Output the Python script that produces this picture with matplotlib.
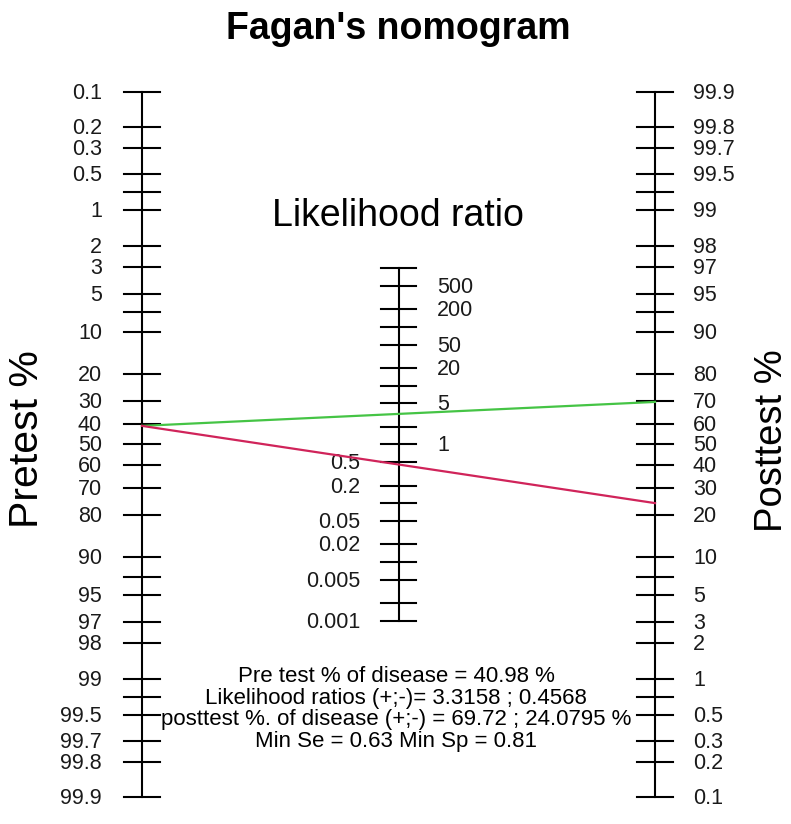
import matplotlib
matplotlib.use("Agg")
import matplotlib.pyplot as plt
import numpy as np

# ---- data ----
pretest = 40.98
lr_pos, lr_neg = 3.3158, 0.4568
post_pos, post_neg = 69.72, 24.0795
min_se, min_sp = 0.63, 0.81

prob_ticks = [0.1, 0.2, 0.3, 0.5, 0.7, 1, 2, 3, 5, 7, 10, 20, 30, 40, 50, 60,
              70, 80, 90, 93, 95, 97, 98, 99, 99.3, 99.5, 99.7, 99.8, 99.9]
prob_unlabeled = [0.7, 7, 93, 99.3]
lr_ticks = [0.001, 0.002, 0.005, 0.01, 0.02, 0.05, 0.1, 0.2, 0.5, 1, 2, 5,
            10, 20, 50, 100, 200, 500, 1000]
lr_labels_right = [500, 200, 50, 20, 5, 1]
lr_labels_left = [0.5, 0.2, 0.05, 0.02, 0.005, 0.001]

GREEN = "#45c445"
RED = "#d0245a"
FONT = "Liberation Sans"
plt.rcParams["font.family"] = [FONT, "DejaVu Sans"]

W, H = 791, 824
PX_Y = 51.04     # pixels per logit unit
PX_X = 256.5     # pixels per x unit
X_LEFT, X_MID, X_RIGHT = -1.0, 0.0, 1.0
DY = -1.5 / PX_Y  # nudge tick labels down a little, like R does


def logit(p):
    p = np.asarray(p, dtype=float) / 100.0
    return np.log(p / (1 - p))


def y_pre(p):
    return -logit(p)


def y_post(p):
    return logit(p)


def y_lr(lr):
    return np.log(np.asarray(lr, dtype=float)) / 2.0


def fmt(v):
    return f"{v:g}"


fig = plt.figure(figsize=(W / 100, H / 100), dpi=100)
ax = fig.add_axes([0, 0, 1, 1])
ax.set_xlim(-1 - 142 / PX_X, 1 + (W - 655) / PX_X)
ax.set_ylim(-(H - 444.5) / PX_Y, 444.5 / PX_Y)
ax.axis("off")

tick = 0.07
lw = 1.5
lab_kw = dict(va="center", fontsize=15.5, color="#1a1a1a")

# pretest axis (left)
yl = y_pre(prob_ticks)
ax.plot([X_LEFT, X_LEFT], [yl.min(), yl.max()], color="black", lw=lw)
for v, y in zip(prob_ticks, yl):
    ax.plot([X_LEFT - tick, X_LEFT + tick], [y, y], color="black", lw=lw)
    if v not in prob_unlabeled:
        ax.text(X_LEFT - 0.156, y + DY, fmt(v), ha="right", **lab_kw)

# posttest axis (right)
yr = y_post(prob_ticks)
ax.plot([X_RIGHT, X_RIGHT], [yr.min(), yr.max()], color="black", lw=lw)
for v, y in zip(prob_ticks, yr):
    ax.plot([X_RIGHT - tick, X_RIGHT + tick], [y, y], color="black", lw=lw)
    if v not in prob_unlabeled:
        ax.text(X_RIGHT + 0.148, y + DY, fmt(v), ha="left", **lab_kw)

# likelihood ratio axis (middle)
ym = y_lr(lr_ticks)
ax.plot([X_MID, X_MID], [ym.min(), ym.max()], color="black", lw=lw)
for v, y in zip(lr_ticks, ym):
    ax.plot([X_MID - tick, X_MID + tick], [y, y], color="black", lw=lw)
    if v in lr_labels_right:
        ax.text(X_MID + 0.15, y + DY, fmt(v), ha="left", **lab_kw)
    elif v in lr_labels_left:
        ax.text(X_MID - 0.15, y + DY, fmt(v), ha="right", **lab_kw)

# result lines (drawn over the labels, as in R)
ax.plot([X_LEFT, X_RIGHT], [y_pre(pretest), y_post(post_pos)], color=GREEN,
        lw=1.6, zorder=4)
ax.plot([X_LEFT, X_RIGHT], [y_pre(pretest), y_post(post_neg)], color=RED,
        lw=1.6, zorder=4)

# titles and labels
fig.text(398 / W, 1 - 29 / H, "Fagan's nomogram", ha="center", va="center",
         fontsize=27, fontweight="bold")
fig.text(398 / W, 1 - 216 / H, "Likelihood ratio", ha="center", va="center",
         fontsize=27)
fig.text(27 / W, 1 - 439 / H, "Pretest %", ha="center", va="center",
         rotation=90, fontsize=29.5)
fig.text(772 / W, 1 - 441 / H, "Posttest %", ha="center", va="center",
         rotation=90, fontsize=27.5)

lines = [
    f"Pre test % of disease = {pretest} %",
    f"Likelihood ratios (+;-)= {lr_pos} ; {lr_neg}",
    f"posttest %. of disease (+;-) = {post_pos} ; {post_neg} %",
    f"Min Se = {min_se} Min Sp = {min_sp}",
]
for i, s in enumerate(lines):
    fig.text(396 / W, 1 - (676.5 + 21.6 * i) / H, s, ha="center", va="center",
             fontsize=16)

fig.savefig("out.png", dpi=100)
